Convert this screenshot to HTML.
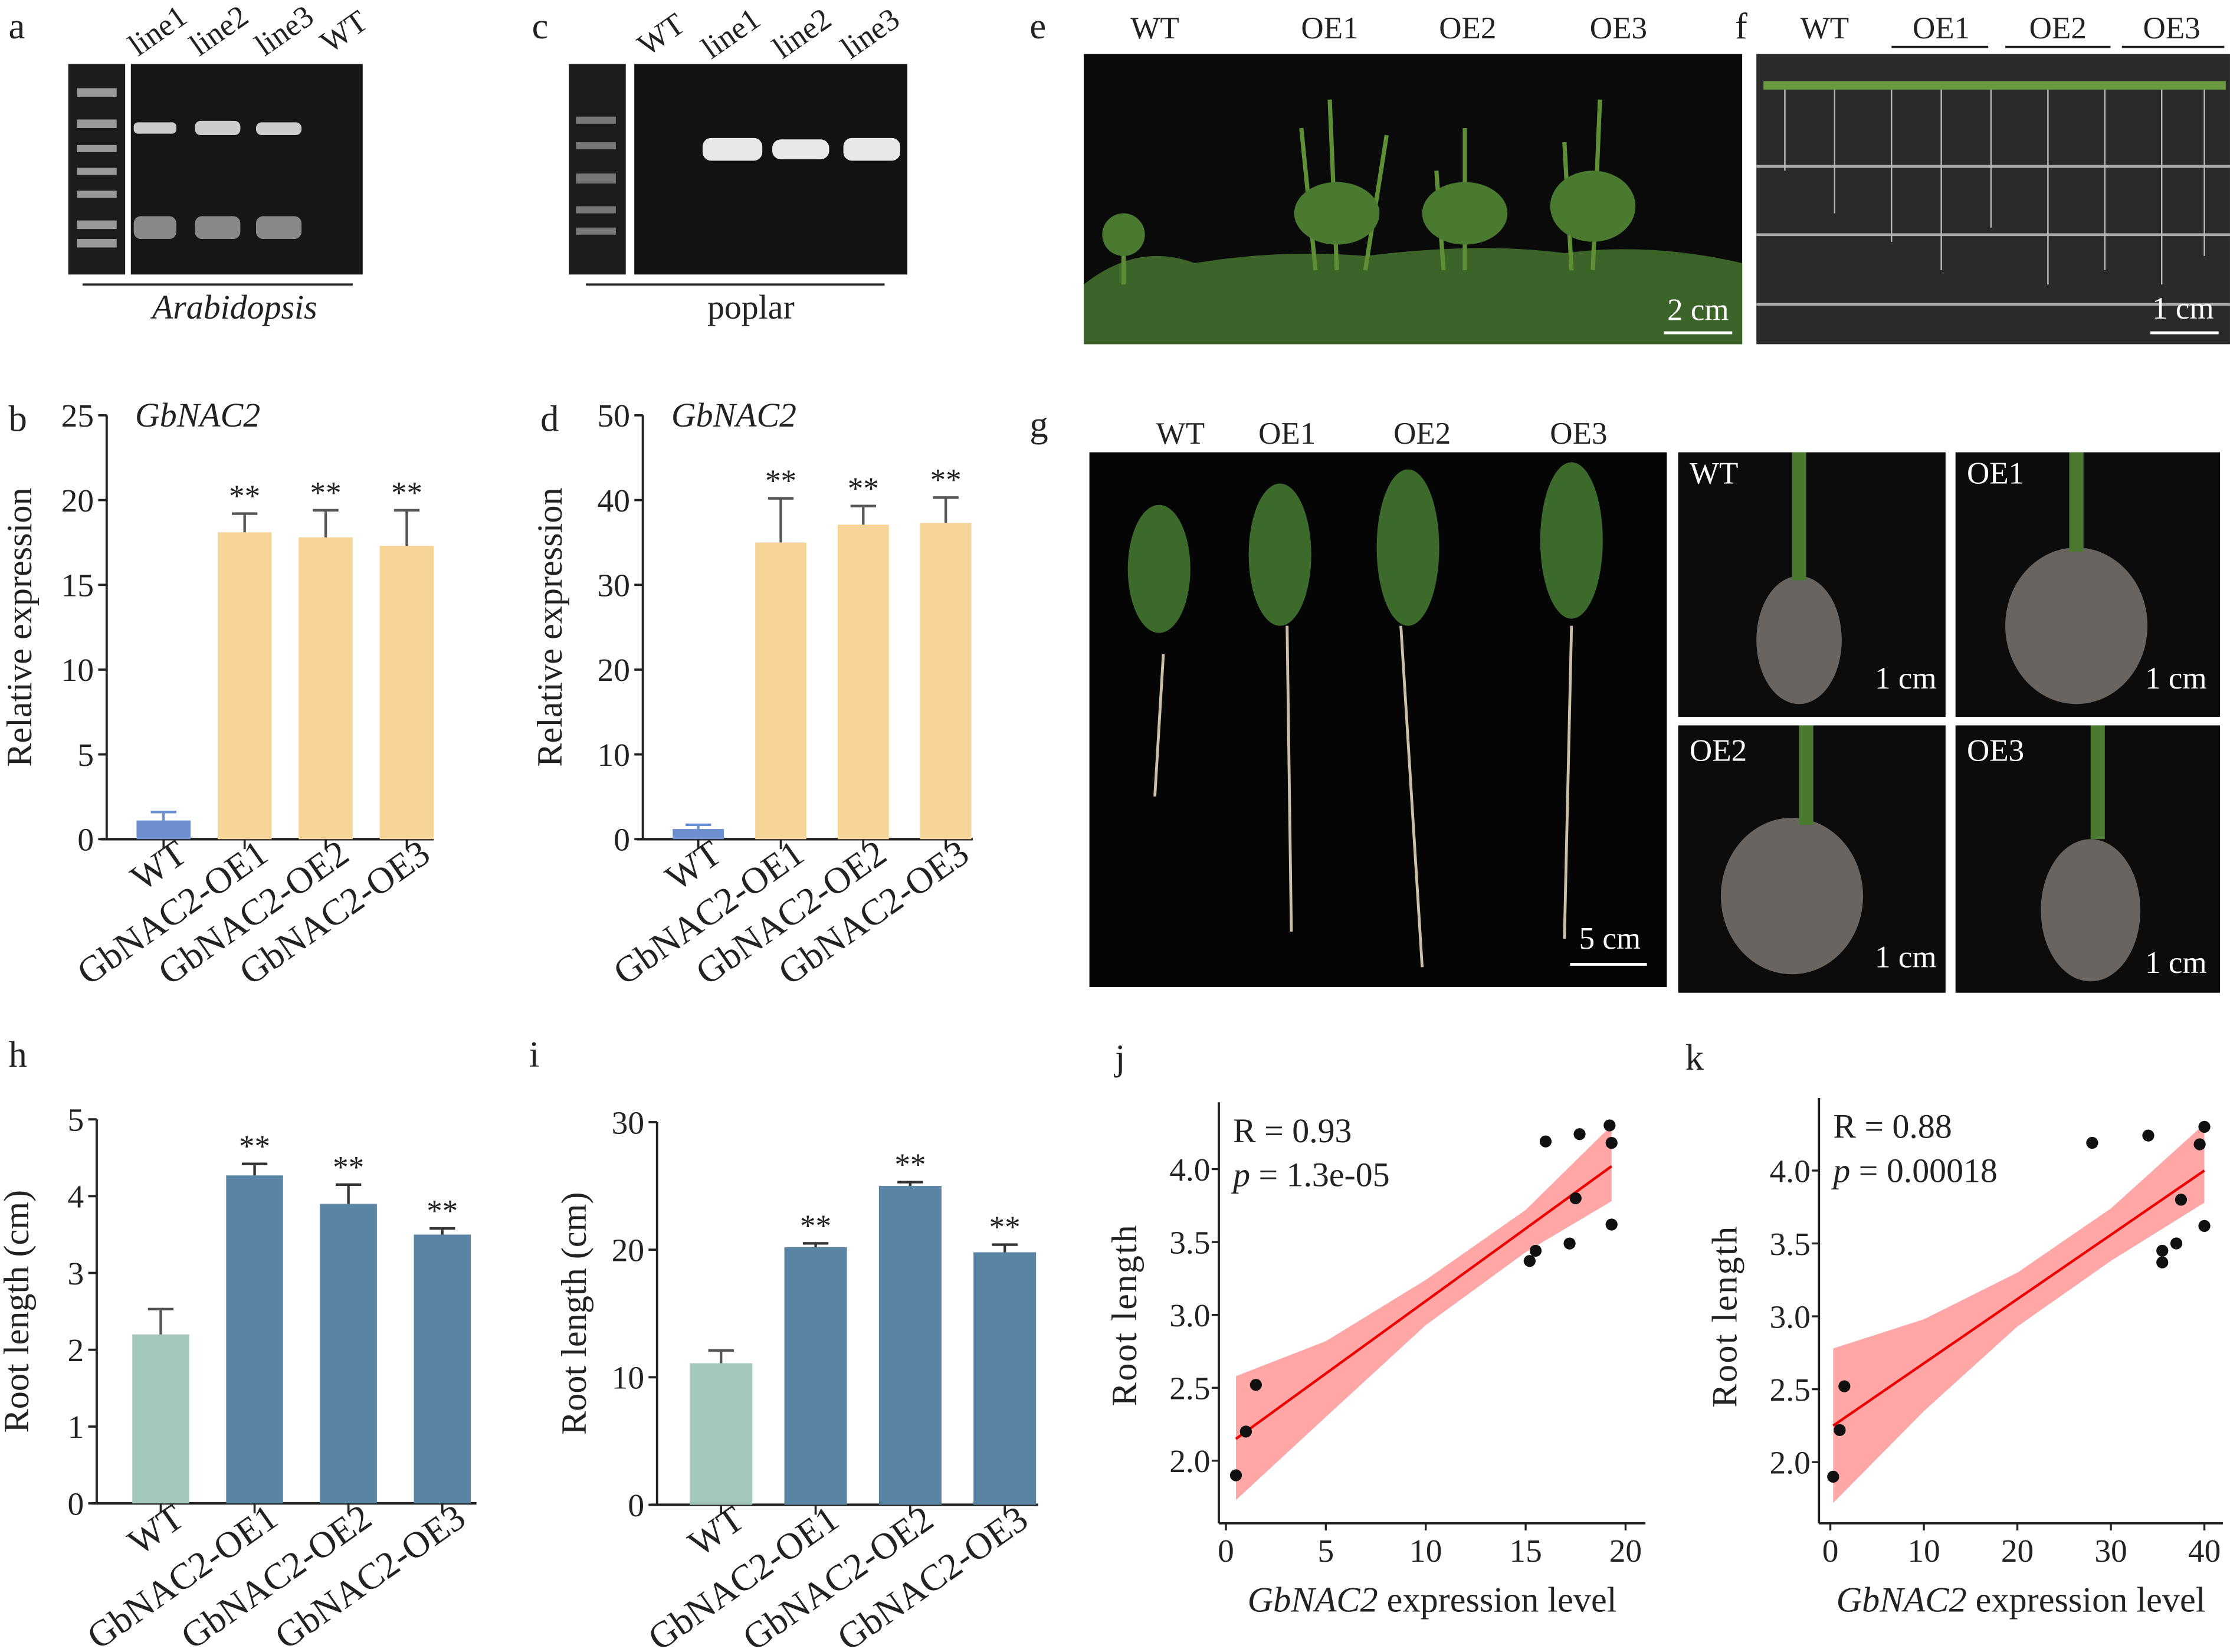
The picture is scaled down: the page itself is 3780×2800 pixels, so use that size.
<!DOCTYPE html>
<html><head><meta charset="utf-8"><style>
html,body{margin:0;padding:0;background:#fff}
svg{display:block;font-family:"Liberation Serif","DejaVu Serif","Times New Roman",serif}
svg text{font-family:"Liberation Serif","DejaVu Serif","Times New Roman",serif;fill:#222}
</style></head><body>
<svg id="fig" width="3780" height="2800" viewBox="0 0 1568 1161.5" font-family="Liberation Serif, serif" xmlns="http://www.w3.org/2000/svg">
<g font-size="26">
<text x="6" y="27">a</text><text x="374" y="27">c</text><text x="724" y="27">e</text><text x="1220" y="27">f</text>
<text x="6" y="303">b</text><text x="380" y="303">d</text><text x="724" y="307">g</text>
<text x="6" y="750">h</text><text x="372" y="750">i</text><text x="784" y="752">j</text><text x="1185" y="752">k</text>
</g>
<g>
<rect x="48" y="45" width="40" height="148" fill="#1c1c1c"/>
<rect x="92" y="45" width="163" height="148" fill="#161616"/>
<g fill="#999"><rect x="54" y="62" width="28" height="6"/><rect x="54" y="84" width="28" height="6"/><rect x="54" y="102" width="28" height="5"/><rect x="54" y="118" width="28" height="5"/><rect x="54" y="134" width="28" height="5"/><rect x="54" y="155" width="28" height="6"/><rect x="54" y="168" width="28" height="6"/></g>
<g fill="#ccc"><rect x="94" y="86" width="30" height="8" rx="3"/><rect x="137" y="85" width="32" height="10" rx="4"/><rect x="180" y="86" width="32" height="9" rx="4"/></g>
<g fill="#888"><rect x="94" y="152" width="30" height="16" rx="5"/><rect x="137" y="152" width="32" height="16" rx="5"/><rect x="180" y="152" width="32" height="16" rx="5"/></g>
<g font-size="22"><text transform="translate(97,40) rotate(-35)">line1</text><text transform="translate(140,40) rotate(-35)">line2</text><text transform="translate(186,40) rotate(-35)">line3</text><text transform="translate(232,38) rotate(-35)">WT</text></g>
<line x1="58" y1="200" x2="248" y2="200" stroke="#222" stroke-width="1.5"/>
<text x="165" y="224" font-size="24" font-style="italic" text-anchor="middle">Arabidopsis</text>
</g>
<g>
<rect x="400" y="45" width="40" height="148" fill="#1c1c1c"/>
<rect x="446" y="45" width="192" height="148" fill="#121212"/>
<g fill="#777"><rect x="405" y="82" width="28" height="5"/><rect x="405" y="100" width="28" height="5"/><rect x="405" y="122" width="28" height="7"/><rect x="405" y="145" width="28" height="5"/><rect x="405" y="160" width="28" height="5"/></g>
<g fill="#e8e8e8"><rect x="494" y="97" width="42" height="16" rx="6"/><rect x="543" y="98" width="40" height="14" rx="6"/><rect x="593" y="97" width="40" height="16" rx="6"/></g>
<g font-size="22"><text transform="translate(455,40) rotate(-35)">WT</text><text transform="translate(500,42) rotate(-35)">line1</text><text transform="translate(550,42) rotate(-35)">line2</text><text transform="translate(598,42) rotate(-35)">line3</text></g>
<line x1="412" y1="200" x2="622" y2="200" stroke="#222" stroke-width="1.5"/>
<text x="528" y="224" font-size="24" text-anchor="middle">poplar</text>
</g>
<g>
<rect x="762" y="38" width="463" height="204" fill="#0a0a0a"/>
<path d="M762 200 Q800 170 840 185 Q900 175 960 180 Q1040 170 1100 178 Q1160 170 1225 185 L1225 242 L762 242Z" fill="#3d6428"/>
<g stroke="#5f8f35" stroke-width="3" fill="none"><path d="M940 190 L935 70"/><path d="M925 190 L915 90"/><path d="M1030 190 L1030 90"/><path d="M1015 190 L1010 120"/><path d="M1120 190 L1125 70"/><path d="M1105 190 L1100 100"/><path d="M790 200 L790 150"/><path d="M960 190 L975 95"/></g>
<g fill="#4a7a30"><ellipse cx="940" cy="150" rx="30" ry="22"/><ellipse cx="1030" cy="150" rx="30" ry="22"/><ellipse cx="1120" cy="145" rx="30" ry="25"/><ellipse cx="790" cy="165" rx="15" ry="15"/></g>
<g font-size="22"><text x="812" y="27" text-anchor="middle">WT</text><text x="935" y="27" text-anchor="middle">OE1</text><text x="1032" y="27" text-anchor="middle">OE2</text><text x="1138" y="27" text-anchor="middle">OE3</text></g>
<text x="1194" y="225" font-size="22" text-anchor="middle" style="fill:#fff">2 cm</text>
<line x1="1170" y1="234" x2="1218" y2="234" stroke="#fff" stroke-width="2"/>
</g>
<g>
<rect x="1235" y="38" width="333" height="204" fill="#2a2a2a"/>
<g stroke="#aaa" stroke-width="2"><line x1="1235" y1="117" x2="1568" y2="117"/><line x1="1235" y1="165" x2="1568" y2="165"/><line x1="1235" y1="214" x2="1568" y2="214"/></g>
<g stroke="#bbb" stroke-width="1"><line x1="1255" y1="60" x2="1255" y2="120"/><line x1="1290" y1="60" x2="1290" y2="150"/><line x1="1330" y1="60" x2="1330" y2="170"/><line x1="1365" y1="60" x2="1365" y2="190"/><line x1="1400" y1="60" x2="1400" y2="160"/><line x1="1440" y1="60" x2="1440" y2="200"/><line x1="1480" y1="60" x2="1480" y2="190"/><line x1="1520" y1="60" x2="1520" y2="200"/><line x1="1550" y1="60" x2="1550" y2="180"/></g>
<line x1="1240" y1="60" x2="1565" y2="60" stroke="#6a9a40" stroke-width="6"/>
<g font-size="22"><text x="1283" y="27" text-anchor="middle">WT</text><text x="1365" y="27" text-anchor="middle">OE1</text><text x="1447" y="27" text-anchor="middle">OE2</text><text x="1527" y="27" text-anchor="middle">OE3</text></g>
<g stroke="#222" stroke-width="1.5"><line x1="1330" y1="33" x2="1398" y2="33"/><line x1="1410" y1="33" x2="1484" y2="33"/><line x1="1492" y1="33" x2="1564" y2="33"/></g>
<text x="1535" y="224" font-size="22" style="fill:#fff" text-anchor="middle">1 cm</text>
<line x1="1512" y1="234" x2="1560" y2="234" stroke="#fff" stroke-width="2"/>
</g>
<g>
<g font-size="22"><text x="830" y="312" text-anchor="middle">WT</text><text x="905" y="312" text-anchor="middle">OE1</text><text x="1000" y="312" text-anchor="middle">OE2</text><text x="1110" y="312" text-anchor="middle">OE3</text></g>
<rect x="766" y="318" width="406" height="376" fill="#050505"/>
<g stroke="#cbbfa8" stroke-width="2" fill="none"><path d="M818 460 L812 560"/><path d="M905 440 L908 655"/><path d="M985 440 L1000 680"/><path d="M1105 440 L1100 660"/></g>
<g fill="#3c6a2a"><ellipse cx="815" cy="400" rx="22" ry="45"/><ellipse cx="900" cy="390" rx="22" ry="50"/><ellipse cx="990" cy="385" rx="22" ry="55"/><ellipse cx="1105" cy="380" rx="22" ry="55"/></g>
<text x="1132" y="667" font-size="22" style="fill:#fff" text-anchor="middle">5 cm</text>
<line x1="1104" y1="678" x2="1158" y2="678" stroke="#fff" stroke-width="2"/>
<rect x="1180" y="318" width="188" height="186" fill="#0c0c0c"/>
<rect x="1375" y="318" width="186" height="186" fill="#0c0c0c"/>
<rect x="1180" y="510" width="188" height="188" fill="#0c0c0c"/>
<rect x="1375" y="510" width="186" height="188" fill="#0c0c0c"/>
<g fill="#6a6460"><ellipse cx="1265" cy="450" rx="30" ry="45"/><ellipse cx="1460" cy="440" rx="50" ry="55"/><ellipse cx="1260" cy="630" rx="50" ry="55"/><ellipse cx="1470" cy="640" rx="35" ry="50"/></g>
<g fill="#4a7a30"><rect x="1260" y="318" width="10" height="90"/><rect x="1455" y="318" width="10" height="70"/><rect x="1265" y="510" width="10" height="70"/><rect x="1470" y="510" width="10" height="80"/></g>
<g font-size="22"><text x="1188" y="340" style="fill:#fff">WT</text><text x="1383" y="340" style="fill:#fff">OE1</text><text x="1188" y="535" style="fill:#fff">OE2</text><text x="1383" y="535" style="fill:#fff">OE3</text>
<text x="1340" y="484" text-anchor="middle" style="fill:#fff">1 cm</text><text x="1530" y="484" text-anchor="middle" style="fill:#fff">1 cm</text><text x="1340" y="680" text-anchor="middle" style="fill:#fff">1 cm</text><text x="1530" y="684" text-anchor="middle" style="fill:#fff">1 cm</text></g>
</g>
<g id="charts"></g>
</svg>
<script>
const barCats = ["WT","GbNAC2-OE1","GbNAC2-OE2","GbNAC2-OE3"];
const bValues = [1.1, 18.1, 17.8, 17.3];
const bErrors = [0.5, 1.1, 1.6, 2.1];
const bTicks = [0,5,10,15,20,25];
const dValues = [1.2, 35.0, 37.1, 37.3];
const dErrors = [0.5, 5.2, 2.2, 3.0];
const dTicks = [0,10,20,30,40,50];
const hValues = [2.2, 4.27, 3.9, 3.5];
const hErrors = [0.33, 0.15, 0.25, 0.08];
const hTicks = [0,1,2,3,4,5];
const iValues = [11.1, 20.2, 25.0, 19.8];
const iErrors = [1.0, 0.3, 0.3, 0.6];
const iTicks = [0,10,20,30];
const jX = [0.5,1,1.5,15.2,15.5,16,17.2,17.5,17.7,19.2,19.3,19.3];
const jY = [1.9,2.2,2.52,3.37,3.44,4.19,3.49,3.8,4.24,4.3,4.18,3.62];
const jTicksX = [0,5,10,15,20];
const kX = [0.3,1,1.5,28,34,35.5,35.5,37,37.5,39.5,40,40];
const kY = [1.9,2.22,2.52,4.19,4.24,3.37,3.45,3.5,3.8,4.18,4.3,3.62];
const kTicksX = [0,10,20,30,40];
const scatTicksY = [2.0,2.5,3.0,3.5,4.0];
const jFit = [2.15, 4.02];
const jBandX = [0.5, 5, 10, 15, 19.3];
const jBandLo = [1.73, 2.3, 2.93, 3.43, 3.78];
const jBandHi = [2.58, 2.82, 3.24, 3.72, 4.3];
const kFit = [2.25, 4.0];
const kBandX = [0.3, 10, 20, 30, 40];
const kBandLo = [1.72, 2.35, 2.93, 3.38, 3.78];
const kBandHi = [2.78, 2.98, 3.3, 3.74, 4.32];

const NS="http://www.w3.org/2000/svg";
const root=document.getElementById('charts');
function mk(tag,attrs,parent){const e=document.createElementNS(NS,tag);for(const k in attrs)e.setAttribute(k,attrs[k]);(parent||root).appendChild(e);return e;}

function barChart(o){
  const g=mk('g',{});
  
  
  const y=v=>o.y0-(v/o.max)*(o.y0-o.yTop);
  mk('line',{x1:o.ax,y1:o.yTop,x2:o.ax,y2:o.y0,stroke:'#222','stroke-width':1.6},g);
  mk('line',{x1:o.ax-4,y1:o.y0,x2:o.axEnd,y2:o.y0,stroke:'#222','stroke-width':1.8},g);
  o.ticks.forEach(t=>{
    mk('line',{x1:o.ax-6,y1:y(t),x2:o.ax,y2:y(t),stroke:'#222','stroke-width':1.6},g);
    const tx=mk('text',{x:o.ax-9,y:y(t)+8,'font-size':23,'text-anchor':'end'},g);tx.textContent=t;
  });
  o.vals.forEach((v,i)=>{
    const cx=o.x0+i*o.step;
    const r=mk('rect',{x:cx-o.w/2,y:y(v),width:o.w,height:o.y0-y(v),fill:i==0?o.c0:o.c1},g);
    
    
    const e=o.errs[i], col=i==0?o.e0:o.e1;
    mk('line',{x1:cx,y1:y(v),x2:cx,y2:y(v+e),stroke:col,'stroke-width':1.8},g);
    mk('line',{x1:cx-9,y1:y(v+e),x2:cx+9,y2:y(v+e),stroke:col,'stroke-width':1.8},g);
    mk('line',{x1:cx,y1:o.y0,x2:cx,y2:o.y0+7,stroke:'#222','stroke-width':1.5},g);
    if(i>0){const s=mk('text',{x:cx,y:y(v+e)-5,'font-size':22,'text-anchor':'middle'},g);s.textContent='**';}
    const lab=mk('text',{transform:`translate(${cx+18},${o.y0+14}) rotate(-35)`,'font-size':26,'text-anchor':'end'},g);
    lab.textContent=barCats[i];
  });
  const yl=mk('text',{transform:`translate(${o.ylx},${(o.yTop+o.y0)/2}) rotate(-90)`,'font-size':25,'text-anchor':'middle'},g);
  yl.textContent=o.ylabel;
  if(o.title){const t=mk('text',{x:o.ax+20,y:o.yTop+8,'font-size':24,'font-style':'italic'},g);t.textContent=o.title;}
}
barChart({name:'chart-b',vals:bValues,errs:bErrors,ticks:bTicks,max:25,ax:75,axEnd:305,yTop:292,y0:590,x0:115,step:57,w:38,c0:'#6b8fcf',c1:'#f7d498',e0:'#6b8fcf',e1:'#555',ylx:22,ylabel:'Relative expression',title:'GbNAC2'});
barChart({name:'chart-d',vals:dValues,errs:dErrors,ticks:dTicks,max:50,ax:452,axEnd:684,yTop:292,y0:590,x0:491,step:58,w:36,c0:'#6b8fcf',c1:'#f7d498',e0:'#6b8fcf',e1:'#555',ylx:395,ylabel:'Relative expression',title:'GbNAC2'});
barChart({name:'chart-h',vals:hValues,errs:hErrors,ticks:hTicks,max:5,ax:68,axEnd:335,yTop:787,y0:1057,x0:113,step:66,w:40,c0:'#a4c8bc',c1:'#5a84a4',e0:'#555',e1:'#333',ylx:20,ylabel:'Root length (cm)'});
barChart({name:'chart-i',vals:iValues,errs:iErrors,ticks:iTicks,max:30,ax:462,axEnd:730,yTop:789,y0:1058,x0:507,step:66.5,w:44,c0:'#a4c8bc',c1:'#5a84a4',e0:'#555',e1:'#333',ylx:412,ylabel:'Root length (cm)'});

function scatter(o){
  const g=mk('g',{});
  
  
  const X=v=>o.px0+v*o.sx, Y=v=>o.py2-(v-2)*o.sy;
  let d='';o.bx.forEach((v,i)=>d+=(i?'L':'M')+X(v)+' '+Y(o.bhi[i]));
  for(let i=o.bx.length-1;i>=0;i--)d+='L'+X(o.bx[i])+' '+Y(o.blo[i]);
  const band=mk('path',{d:d+'Z',fill:'#f88','fill-opacity':0.75},g);
  
  
  const xmin=Math.min(...o.xs),xmax=Math.max(...o.xs);
  const fl=mk('line',{x1:X(xmin),y1:Y(o.fit[0]),x2:X(xmax),y2:Y(o.fit[1]),stroke:'#e00','stroke-width':1.8},g);
  
  
  o.xs.forEach((v,i)=>{const c=mk('circle',{cx:X(v),cy:Y(o.ys[i]),r:4.2,fill:'#111'},g);
    
    });
  mk('line',{x1:o.ax,y1:o.yTop,x2:o.ax,y2:o.ay,stroke:'#222','stroke-width':1.6},g);
  mk('line',{x1:o.ax,y1:o.ay,x2:o.axEnd,y2:o.ay,stroke:'#222','stroke-width':1.6},g);
  scatTicksY.forEach(t=>{mk('line',{x1:o.ax-5,y1:Y(t),x2:o.ax,y2:Y(t),stroke:'#222','stroke-width':1.4},g);
    const tx=mk('text',{x:o.ax-6,y:Y(t)+8,'font-size':23,'text-anchor':'end'},g);tx.textContent=t.toFixed(1);});
  o.tx.forEach(t=>{mk('line',{x1:X(t),y1:o.ay,x2:X(t),y2:o.ay+5,stroke:'#222','stroke-width':1.4},g);
    const tx=mk('text',{x:X(t),y:o.ay+27,'font-size':23,'text-anchor':'middle'},g);tx.textContent=t;});
  const yl=mk('text',{transform:`translate(${o.ax-58},${Y(3)}) rotate(-90)`,'font-size':25,'text-anchor':'middle','letter-spacing':1},g);yl.textContent='Root length';
  const xl=mk('text',{x:(o.ax+o.axEnd)/2,y:o.ay+62,'font-size':25,'text-anchor':'middle'},g);
  xl.innerHTML='<tspan font-style="italic">GbNAC2</tspan> expression level';
  const r=mk('text',{x:o.ax+10,y:o.yTop+28,'font-size':24},g);r.textContent=o.R;
  const p=mk('text',{x:o.ax+10,y:o.yTop+59,'font-size':24},g);p.innerHTML='<tspan font-style="italic">p</tspan> = '+o.p;
}
scatter({name:'chart-j',xs:jX,ys:jY,fit:jFit,bx:jBandX,blo:jBandLo,bhi:jBandHi,tx:jTicksX,px0:862,sx:14.05,py2:1027,sy:102.5,ax:857,axEnd:1157,yTop:775,ay:1071,R:'R = 0.93',p:'1.3e-05'});
scatter({name:'chart-k',xs:kX,ys:kY,fit:kFit,bx:kBandX,blo:kBandLo,bhi:kBandHi,tx:kTicksX,px0:1287,sx:6.575,py2:1028,sy:102.5,ax:1279,axEnd:1563,yTop:772,ay:1071,R:'R = 0.88',p:'0.00018'});
document.querySelectorAll('text').forEach(t=>{t.style.fontFamily='"Liberation Serif","DejaVu Serif","Times New Roman",serif';});
</script>
</body></html>
